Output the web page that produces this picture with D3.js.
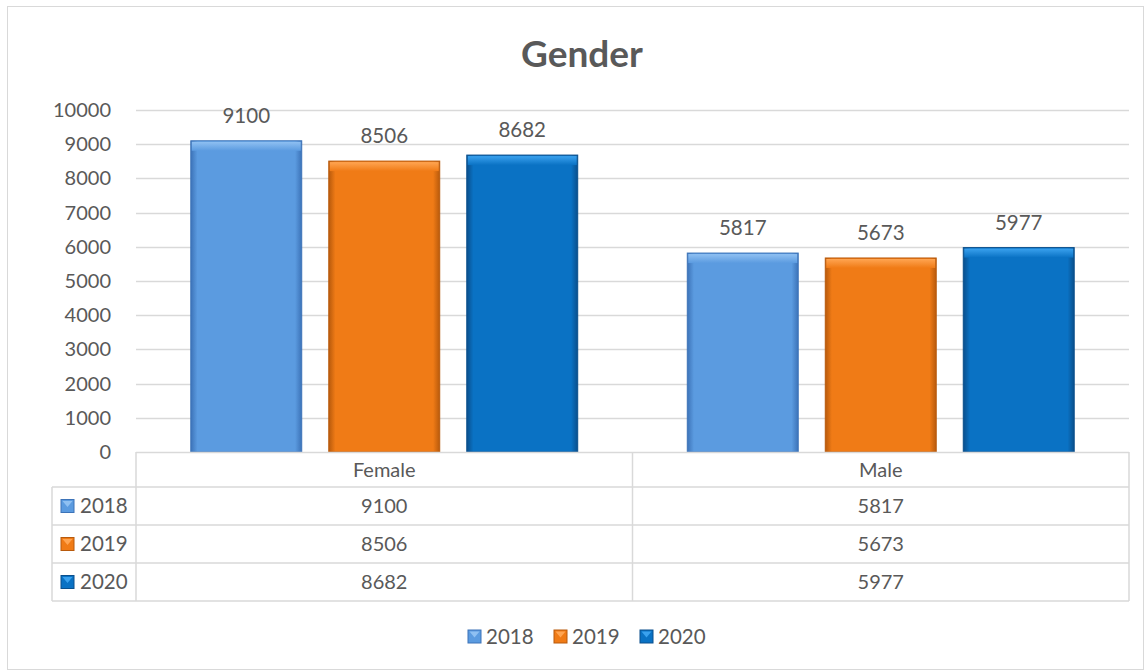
<!DOCTYPE html>
<html>
<head>
<meta charset="utf-8">
<script src="https://cdn.jsdelivr.net/npm/d3@7"></script>
<style>
  body { margin: 0; background: #fff; }
  text { font-family: Lato, "Open Sans", sans-serif; fill: #595959; }
</style>
</head>
<body>
<div id="chart"></div>
<script>
var svgWidth = 1145;
var svgHeight = 672;

var categories = ["Female", "Male"];
var years = ["2018", "2019", "2020"];
var values2018 = [9100, 5817];
var values2019 = [8506, 5673];
var values2020 = [8682, 5977];
var yTicks = [0, 1000, 2000, 3000, 4000, 5000, 6000, 7000, 8000, 9000, 10000];

var seriesValues = [values2018, values2019, values2020];
var colors = ["#5b9be0", "#f07b16", "#0a72c4"];
var darkColors = ["#3c73b8", "#b85a0c", "#0a4f8c"];
var lightColors = ["#8fc0f2", "#ffa552", "#3aa1ee"];

var plot = { left: 136, right: 1129, top: 110, bottom: 452 };
var table = { left: 52, rowH: 38, headerH: 35 };
var fontSize = "20px";

var svg = d3.select("#chart")
    .append("svg")
    .attr("width", svgWidth)
    .attr("height", svgHeight);

// gradients for the bevelled bars
var defs = svg.append("defs");
years.forEach(function (y, i) {
    var g = defs.append("linearGradient")
        .attr("id", "grad" + i)
        .attr("x1", 0).attr("x2", 1).attr("y1", 0).attr("y2", 0);
    g.append("stop").attr("offset", "0%").attr("stop-color", darkColors[i]);
    g.append("stop").attr("offset", "6%").attr("stop-color", colors[i]);
    g.append("stop").attr("offset", "94%").attr("stop-color", colors[i]);
    g.append("stop").attr("offset", "100%").attr("stop-color", darkColors[i]);
    var t = defs.append("linearGradient")
        .attr("id", "top" + i)
        .attr("x1", 0).attr("x2", 0).attr("y1", 0).attr("y2", 1);
    t.append("stop").attr("offset", "0%").attr("stop-color", lightColors[i]);
    t.append("stop").attr("offset", "100%").attr("stop-color", colors[i]);
});

// outer border
svg.append("rect")
    .attr("x", 7.5).attr("y", 6.5)
    .attr("width", svgWidth - 9).attr("height", svgHeight - 9)
    .attr("fill", "none")
    .attr("stroke", "#d9d9d9");

// title
svg.append("text")
    .attr("x", 582).attr("y", 67)
    .attr("text-anchor", "middle")
    .style("font-size", "37px")
    .style("font-weight", "bold")
    .text("Gender");

var y = d3.scaleLinear().domain([0, 10000]).range([plot.bottom, plot.top]);
var x0 = d3.scaleBand().domain(categories).range([plot.left, plot.right]);
var x1 = d3.scaleBand().domain(years).range([0, x0.bandwidth()])
    .paddingInner(0.196).paddingOuter(0.397);

// gridlines
svg.append("g")
    .selectAll("line")
    .data(yTicks.filter(d => d > 0))
    .enter()
    .append("line")
    .attr("x1", plot.left).attr("x2", plot.right)
    .attr("y1", d => Math.round(y(d)) + 0.5)
    .attr("y2", d => Math.round(y(d)) + 0.5)
    .attr("stroke", "#d9d9d9")
    .attr("stroke-width", 1.3);

// y axis labels
svg.append("g")
    .selectAll("text")
    .data(yTicks)
    .enter()
    .append("text")
    .attr("x", 111)
    .attr("y", d => y(d) + 7)
    .attr("text-anchor", "end")
    .style("font-size", fontSize)
    .text(d => d);

// bars
years.forEach(function (yr, i) {
    var g = svg.append("g");
    var data = categories.map((c, j) => ({ cat: c, value: seriesValues[i][j] }));
    g.selectAll("rect.bar")
        .data(data)
        .enter()
        .append("rect")
        .attr("class", "bar")
        .attr("x", d => x0(d.cat) + x1(yr))
        .attr("y", d => y(d.value))
        .attr("width", x1.bandwidth())
        .attr("height", d => y(0) - y(d.value))
        .attr("fill", "url(#grad" + i + ")")
        .attr("stroke", darkColors[i])
        .attr("stroke-width", 1);
    g.selectAll("rect.cap")
        .data(data)
        .enter()
        .append("rect")
        .attr("class", "cap")
        .attr("x", d => x0(d.cat) + x1(yr) + 1)
        .attr("y", d => y(d.value) + 1)
        .attr("width", x1.bandwidth() - 2)
        .attr("height", 9)
        .attr("fill", "url(#top" + i + ")");
    g.selectAll("text")
        .data(data)
        .enter()
        .append("text")
        .attr("x", d => x0(d.cat) + x1(yr) + x1.bandwidth() / 2)
        .attr("y", d => y(d.value) - 18)
        .attr("text-anchor", "middle")
        .style("font-size", "20.5px")
        .text(d => d.value);
});

// data table
var tableG = svg.append("g");
var tTop = plot.bottom;
var tBottom = tTop + table.headerH + table.rowH * years.length;
var lineColor = "#d9d9d9";

// horizontal lines
tableG.append("line")
    .attr("x1", plot.left).attr("x2", plot.right)
    .attr("y1", tTop + 0.5).attr("y2", tTop + 0.5)
    .attr("stroke", lineColor).attr("stroke-width", 1.5);
for (var r = 0; r <= years.length; r++) {
    var ly = tTop + table.headerH + r * table.rowH;
    tableG.append("line")
        .attr("x1", table.left).attr("x2", plot.right)
        .attr("y1", ly).attr("y2", ly)
        .attr("stroke", lineColor).attr("stroke-width", 1.5);
}
// vertical lines
tableG.append("line")
    .attr("x1", table.left).attr("x2", table.left)
    .attr("y1", tTop + table.headerH).attr("y2", tBottom)
    .attr("stroke", lineColor).attr("stroke-width", 1.5);
[plot.left, x0("Male"), plot.right].forEach(function (vx) {
    tableG.append("line")
        .attr("x1", vx).attr("x2", vx)
        .attr("y1", tTop).attr("y2", tBottom)
        .attr("stroke", lineColor).attr("stroke-width", 1.5);
});

// header text
tableG.selectAll("text.head")
    .data(categories)
    .enter()
    .append("text")
    .attr("class", "head")
    .attr("x", d => x0(d) + x0.bandwidth() / 2)
    .attr("y", tTop + table.headerH / 2 + 7)
    .attr("text-anchor", "middle")
    .style("font-size", fontSize)
    .text(d => d);

function legendKey(g, kx, ky, i) {
    g.append("rect")
        .attr("x", kx).attr("y", ky)
        .attr("width", 13).attr("height", 13)
        .attr("fill", colors[i])
        .attr("stroke", darkColors[i]);
    g.append("path")
        .attr("d", `M${kx + 1.5},${ky + 1.5} L${kx + 11.5},${ky + 1.5} L${kx + 6.5},${ky + 7.5} Z`)
        .attr("fill", lightColors[i]);
}

years.forEach(function (yr, i) {
    var rowMid = tTop + table.headerH + i * table.rowH + table.rowH / 2;
    legendKey(tableG, 61, rowMid - 6.5, i);
    tableG.append("text")
        .attr("x", 80)
        .attr("y", rowMid + 7)
        .style("font-size", "20.5px")
        .text(yr);
    categories.forEach(function (c, j) {
        tableG.append("text")
            .attr("x", x0(c) + x0.bandwidth() / 2)
            .attr("y", rowMid + 7)
            .attr("text-anchor", "middle")
            .style("font-size", fontSize)
            .text(seriesValues[i][j]);
    });
});

// bottom legend
var legendG = svg.append("g");
var legendX = [468, 554, 640];
years.forEach(function (yr, i) {
    legendKey(legendG, legendX[i], 630, i);
    legendG.append("text")
        .attr("x", legendX[i] + 18)
        .attr("y", 644)
        .style("font-size", "20.5px")
        .text(yr);
});
</script>
</body>
</html>
